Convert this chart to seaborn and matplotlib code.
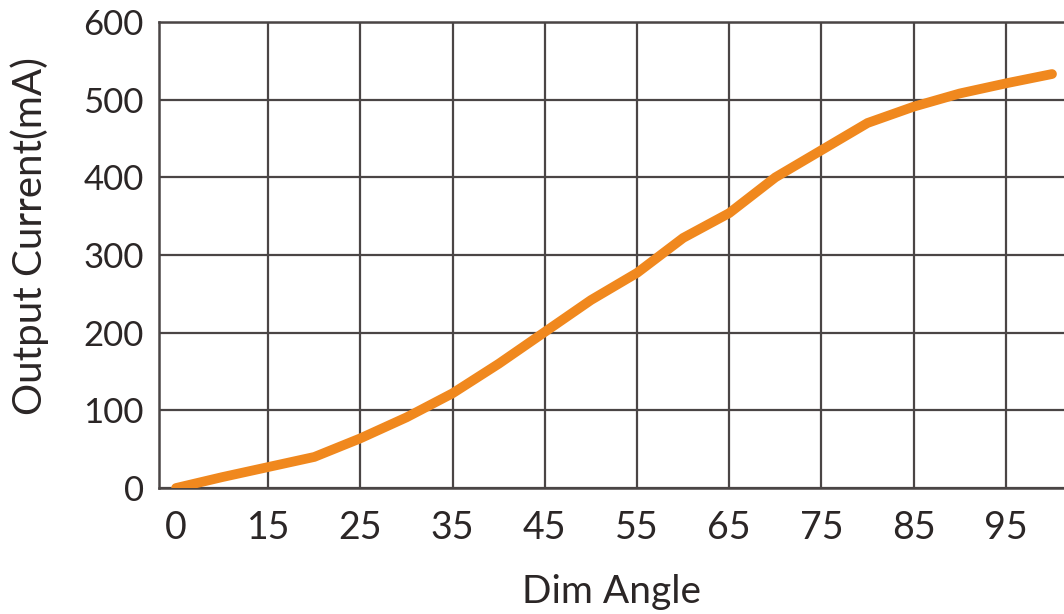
import numpy as np
import pandas as pd
import matplotlib.pyplot as plt
import seaborn as sns

# dim angle steps (equally spaced on the chart) and output current in mA
angles = [0, 10, 15, 20, 25, 30, 35, 40, 45, 50, 55, 60, 65, 70, 75, 80, 85, 90, 95, 100]
current = [0, 14, 27, 40, 64, 91, 122, 160, 201, 242, 277, 322, 354, 400, 435, 470, 491, 508, 521, 533]
y_ticks = [0, 100, 200, 300, 400, 500, 600]

df = pd.DataFrame({"pos": np.arange(len(angles)), "angle": angles, "current": current})

sns.set_style("white")
plt.rcParams['font.family'] = ['Lato', 'DejaVu Sans']

grid_col = "#4a4545"
text_col = "#2b2626"

fig = plt.figure(figsize=(10.64, 6.14), dpi=100)
ax = fig.add_axes([159 / 1064, 1 - 488 / 614, 1 - 159 / 1064, (488 - 22) / 614])

sns.lineplot(data=df, x="pos", y="current", color="#f0881e", linewidth=7, ax=ax,
             solid_joinstyle="miter", zorder=3)

ax.set_xlim(-0.37, 19.26)
ax.set_ylim(0, 600)

tick_pos = df["pos"][::2]
ax.set_xticks(tick_pos)
ax.set_xticklabels([str(a) for a in df["angle"][::2]], fontsize=27, color=text_col)
ax.set_yticks(y_ticks)
ax.set_yticklabels([str(v) for v in y_ticks], fontsize=25, color=text_col)
ax.tick_params(axis="both", length=0)
ax.tick_params(axis="x", pad=16)
ax.tick_params(axis="y", pad=11)

ax.grid(True, color=grid_col, linewidth=1.6)
ax.get_xgridlines()[0].set_visible(False)
ax.set_axisbelow(True)

for side in ["left", "bottom", "top"]:
    ax.spines[side].set_color(grid_col)
    ax.spines[side].set_linewidth(1.8)
ax.spines["right"].set_visible(False)

ax.set_xlabel("Dim Angle", fontsize=28, color=text_col, labelpad=20)
ax.set_ylabel("Output Current(mA)", fontsize=29, color=text_col)
ax.yaxis.set_label_coords(-0.122, 0.54)

fig.savefig("out.png", dpi=100)
